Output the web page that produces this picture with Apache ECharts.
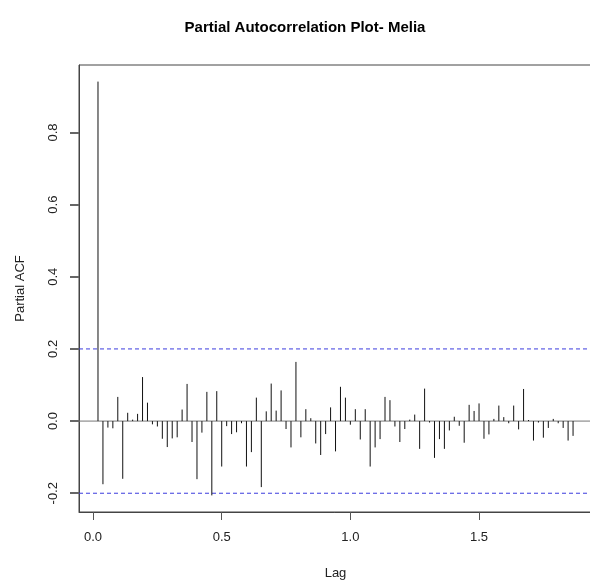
<!DOCTYPE html>
<html>
<head>
<meta charset="utf-8">
<script src="https://cdn.jsdelivr.net/npm/echarts@6/dist/echarts.min.js"></script>
<style>html,body{margin:0;padding:0;background:#fff;}#c{width:590px;height:580px;}</style>
</head>
<body>
<div id="c"></div>
<script>
// Partial autocorrelation values for lags 1..97 (weekly series, frequency 52)
const freq = 52;
const pacfValues = [
  0.941, -0.175, -0.018, -0.020, 0.067, -0.160, 0.023, 0.004, 0.020, 0.122,
  0.051, -0.009, -0.015, -0.049, -0.072, -0.048, -0.045, 0.032, 0.103, -0.058,
  -0.161, -0.032, 0.081, -0.206, 0.083, -0.126, -0.014, -0.036, -0.031, -0.006,
  -0.126, -0.086, 0.065, -0.183, 0.027, 0.104, 0.029, 0.085, -0.022, -0.073,
  0.164, -0.045, 0.033, 0.008, -0.062, -0.094, -0.036, 0.038, -0.084, 0.095,
  0.065, -0.010, 0.033, -0.051, 0.033, -0.126, -0.073, -0.050, 0.067, 0.058,
  -0.015, -0.058, -0.022, 0.004, 0.018, -0.077, 0.090, -0.004, -0.102, -0.050,
  -0.077, -0.026, 0.012, -0.013, -0.060, 0.045, 0.028, 0.049, -0.049, -0.037,
  0.006, 0.043, 0.011, -0.006, 0.043, -0.023, 0.089, 0.003, -0.054, -0.004,
  -0.046, -0.019, 0.006, -0.006, -0.019, -0.054, -0.041
];
const confLimit = 0.2;
const xRange = [-0.0546, 1.939];
const yRange = [-0.252, 0.987];
const xTicks = [0, 0.5, 1.0, 1.5];
const yTicks = [-0.2, 0.0, 0.2, 0.4, 0.6, 0.8];
const titleText = 'Partial Autocorrelation Plot- Melia';

const points = pacfValues.map((v, i) => [(i + 1) / freq, v]);
const hLine = (y) => [[xRange[0], y], [xRange[1], y]];

const chart = echarts.init(document.getElementById('c'), null, {renderer: 'canvas'});
const font = 'Liberation Sans, Arial, Helvetica, sans-serif';
const blueDash = {color: '#3b3bde', type: [4, 3], width: 1};
chart.setOption({
  animation: false,
  backgroundColor: '#fff',
  title: {
    text: titleText,
    left: 300, top: 15, textAlign: 'center',
    textStyle: {fontFamily: font, fontSize: 15, fontWeight: 'bold', color: '#000'}
  },
  grid: {left: 79, top: 65, width: 513, height: 447, show: true, borderColor: '#444', borderWidth: 1,
         backgroundColor: 'transparent', containLabel: false, outerBoundsMode: 'none'},
  xAxis: {
    type: 'value', min: xRange[0], max: xRange[1],
    name: 'Lag', nameLocation: 'middle', nameGap: 55,
    nameTextStyle: {fontFamily: font, fontSize: 13, color: '#222'},
    axisLine: {show: true, onZero: false, lineStyle: {color: '#444'}},
    splitLine: {show: false},
    axisTick: {show: true, inside: false, customValues: xTicks, length: 8, lineStyle: {color: '#555'}},
    axisLabel: {customValues: xTicks, margin: 19, fontFamily: font, fontSize: 13, color: '#222', formatter: v => v.toFixed(1)}
  },
  yAxis: {
    type: 'value', min: yRange[0], max: yRange[1], position: 'left',
    name: 'Partial ACF', nameLocation: 'middle', nameGap: 52,
    nameTextStyle: {fontFamily: font, fontSize: 13, color: '#222'},
    axisLine: {show: true, onZero: false, lineStyle: {color: '#444'}},
    splitLine: {show: false},
    axisTick: {show: true, inside: false, customValues: yTicks, length: 9, lineStyle: {color: '#666', width: 2}},
    axisLabel: {customValues: yTicks, rotate: 90, margin: 19, fontFamily: font, fontSize: 13, color: '#222', formatter: v => v.toFixed(1)}
  },
  series: [
    {
      type: 'line', data: hLine(0), symbol: 'none', silent: true, z: 2,
      lineStyle: {color: '#777', type: 'solid', width: 1}, itemStyle: {color: '#777'}
    },
    {
      type: 'line', data: hLine(confLimit), symbol: 'none', silent: true, z: 2,
      lineStyle: blueDash, itemStyle: {color: '#3b3bde'}
    },
    {
      type: 'line', data: hLine(-confLimit), symbol: 'none', silent: true, z: 2,
      lineStyle: blueDash, itemStyle: {color: '#3b3bde'}
    },
    {
      type: 'custom',
      data: points,
      renderItem: function (params, api) {
        const p0 = api.coord([api.value(0), 0]);
        const p1 = api.coord([api.value(0), api.value(1)]);
        return {type: 'line', shape: {x1: p0[0], y1: p0[1], x2: p1[0], y2: p1[1]}, style: {stroke: '#111', lineWidth: 1}};
      },
      z: 3
    }
  ]
});
</script>
</body>
</html>
